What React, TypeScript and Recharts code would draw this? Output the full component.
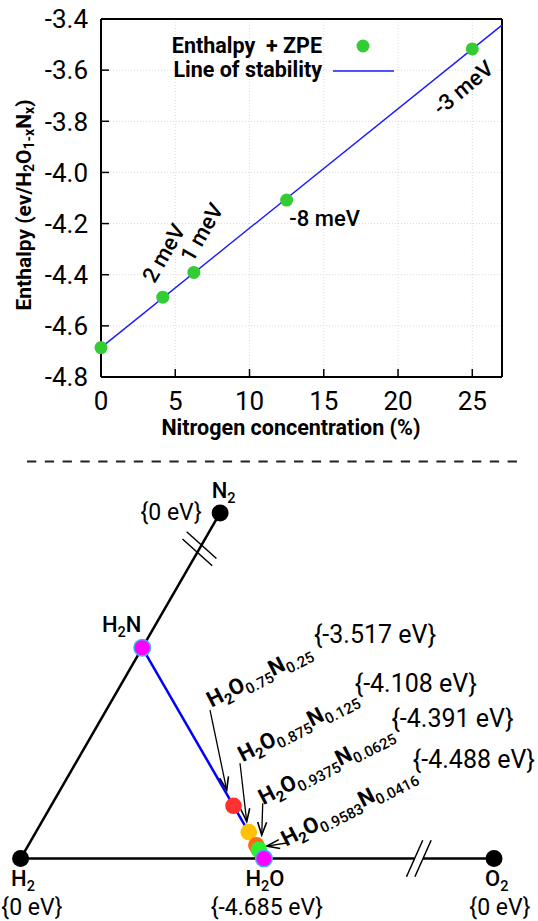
import React from "react";
import { ScatterChart, Scatter, XAxis, YAxis, CartesianGrid, Legend } from "recharts";

const FONT = "Roboto, 'Noto Sans', sans-serif";

// ---- top panel: enthalpy vs nitrogen concentration
const nitrogenPct = [0, 4.16, 6.25, 12.5, 25];
const enthalpyZpe = [-4.685, -4.488, -4.391, -4.108, -3.517];
const meVNotes = ["", "2 meV", "1 meV", "-8 meV", "-3 meV"];
const stabilityPct = [0, 27];
const stabilityEnthalpy = [-4.685, -3.424];
const xTicks = [0, 5, 10, 15, 20, 25];
const yTicks = [-4.8, -4.6, -4.4, -4.2, -4.0, -3.8, -3.6, -3.4];

// ---- bottom panel: ternary H-O-N diagram, H2O(1-x)N(x)
const xN = [0.25, 0.125, 0.0625, 0.0416, 0];
const oSubs = ["0.75", "0.875", "0.9375", "0.9583"];
const nSubs = ["0.25", "0.125", "0.0625", "0.0416"];
const mixEnergies = ["{-3.517 eV}", "{-4.108 eV}", "{-4.391 eV}", "{-4.488 eV}"];
const vertexNames = ["H2", "H2O", "O2", "N2", "H2N"];
const vertexO = [0, 1 / 3, 0.6485, 0, 0]; // O2 / N2 drawn pulled in (axis break)
const vertexN = [0, 0, 0, 0.5466, 1 / 3];
const vertexEnergies = ["{0 eV}", "{-4.685 eV}", "{0 eV}", "{0 eV}", ""];
const breakO = 0.5455;
const breakN = 0.49;

// styles / placement (pixels)
const mixColors = ["#ff3030", "#ffc107", "#ff6a13", "#2ef02e", "#ff00ff"];
const notePlace = [null, { dx: 1, dy: -44, a: -60 }, { dx: 8, dy: -40, a: -60 }, { dx: 38, dy: 18, a: 0 }, { dx: -9, dy: 39, a: -40 }];
const mixPlace = [
  { tail: [-23.5, -95.8], tip: [-6.8, -15.8], text: [-22, -98], energy: [141.5, -162.8] },
  { tail: [-8.7, -68.9], tip: [-2, -10.5], text: [-6, -70], energy: [167.1, -140.5] },
  { tail: [6.4, -42], tip: [5.4, -10.3], text: [7, -40], energy: [196.2, -118.6] },
  { tail: [29.4, -7], tip: [7.8, -3.7], text: [27.1, -3], energy: [215.1, -81.7] },
];
const vertexPlace = [
  { name: [2.4, 27], size: 22, energy: [11.4, 56.5] },
  { name: [1, 27], size: 22, energy: [3, 56.5] },
  { name: [2.8, 27], size: 22, energy: [6, 56.5] },
  { name: [3.5, -15], size: 22, energy: [-49, 7] },
  { name: [-20.6, -16], size: 22, energy: null },
];

const pointData = nitrogenPct.map((x, i) => ({ x, y: enthalpyZpe[i], i }));
const stabilityData = stabilityPct.map((x, i) => ({ x, y: stabilityEnthalpy[i] }));

function Chem({ s, sub }: { s: string; sub: number }) {
  const parts = s.match(/[A-Za-z]+|[0-9.]+/g) || [];
  let low = false;
  return (
    <>
      {parts.map((p, k) => {
        const isSub = /^[0-9.]/.test(p);
        const dy = isSub && !low ? sub * 0.25 : !isSub && low ? -sub * 0.25 : 0;
        low = isSub;
        return (
          <tspan key={k} dy={dy} fontSize={isSub ? sub * 0.66 : undefined}>{p}</tspan>
        );
      })}
    </>
  );
}

function YTitle() {
  return (
    <text transform="translate(24,205) rotate(-90)" textAnchor="middle" dominantBaseline="central"
      fontSize={21} fontWeight={700} fontFamily={FONT} fill="#000">
      Enthalpy (ev/H<tspan dy={5} fontSize={14}>2</tspan><tspan dy={-5}>O</tspan>
      <tspan dy={5} fontSize={14}>1-x</tspan><tspan dy={-5}>N</tspan><tspan dy={5} fontSize={14}>x</tspan><tspan dy={-5}>)</tspan>
    </text>
  );
}

function XTitle() {
  return (
    <text x={291} y={435} textAnchor="middle" fontSize={21.5} fontWeight={700} fontFamily={FONT} fill="#000">
      Nitrogen concentration (%)
    </text>
  );
}

function legendContent() {
  return (
    <svg width={250} height={54} style={{ display: "block" }} fontFamily={FONT}>
      <text x={162} y={23} textAnchor="end" fontSize={21.5} fontWeight={700} fill="#000">{"Enthalpy\u00a0\u00a0+ ZPE"}</text>
      <circle cx={203} cy={16} r={6.5} fill="#33cc33" />
      <text x={162} y={47} textAnchor="end" fontSize={21.5} fontWeight={700} fill="#000">Line of stability</text>
      <line x1={173} x2={234} y1={41} y2={41} stroke="#1a1aff" strokeWidth={1.5} />
    </svg>
  );
}

const axisLine = { stroke: "#000", strokeWidth: 2 };
const tickLine = { stroke: "#000", strokeWidth: 1.5 };
const tickStyle = { fontSize: 26, fill: "#000", fontFamily: FONT };

function TopChart() {
  return (
    <ScatterChart width={538} height={450} margin={{ top: 18, right: 35, bottom: 13, left: 0 }}>
      <CartesianGrid stroke="#d0d0d0" strokeDasharray="1 2" strokeWidth={0.8} />
      <XAxis type="number" dataKey="x" domain={[0, 27]} ticks={xTicks} interval={0} height={60}
        axisLine={axisLine} tickLine={tickLine} tickSize={-8} tickMargin={23} tick={tickStyle} label={XTitle} />
      <XAxis xAxisId="top" orientation="top" type="number" domain={[0, 27]} ticks={xTicks} interval={0}
        height={1} axisLine={axisLine} tickLine={tickLine} tickSize={-8} tickFormatter={() => ""} />
      <YAxis type="number" dataKey="y" domain={[-4.8, -3.4]} ticks={yTicks} interval={0} width={101}
        axisLine={axisLine} tickLine={tickLine} tickSize={-8} tickMargin={21} tick={tickStyle}
        tickFormatter={(v: number) => v.toFixed(1)} label={YTitle} />
      <YAxis yAxisId="right" orientation="right" type="number" domain={[-4.8, -3.4]} ticks={yTicks} interval={0}
        width={1} axisLine={axisLine} tickLine={tickLine} tickSize={-8} tickFormatter={() => ""} />
      <Legend verticalAlign="middle" align="center" layout="horizontal" content={legendContent}
        wrapperStyle={{ top: 30, left: 160, width: 250, height: 54 }} />
      <Scatter data={stabilityData} line={{ stroke: "#1a1aff", strokeWidth: 1.4 }} shape={() => <g />} isAnimationActive={false} />
      <Scatter data={pointData} isAnimationActive={false}
        shape={(p: any) => <circle cx={p.cx} cy={p.cy} r={6.5} fill="#33cc33" />} />
      <Scatter data={pointData} isAnimationActive={false}
        shape={(p: any) => {
          const k = p.payload.i;
          const pl = notePlace[k];
          if (!pl || !meVNotes[k]) return <g />;
          const tx = p.cx + pl.dx, ty = p.cy + pl.dy;
          return (
            <text x={tx} y={ty} transform={`rotate(${pl.a} ${tx} ${ty})`} textAnchor="middle" dominantBaseline="central"
              fontSize={22} fontWeight={500} fontFamily={FONT} fill="#000">{meVNotes[k]}</text>
          );
        }} />
    </ScatterChart>
  );
}

// ternary projection
const tern = (o: number, n: number) => ({ x: o + n / 2, y: (n * Math.sqrt(3)) / 2 });
const mixComp = (x: number) => tern((1 - x) / 3, x / 3);

const S = 730; // px per ternary edge length
const B_W = 538, B_H = 471, B_TOP = 450;
const OX = 20.6, OY = 858.5 - B_TOP;
const bxDomain: [number, number] = [-OX / S, (B_W - OX) / S];
const byDomain: [number, number] = [(OY - B_H) / S, OY / S];

const gap = 0.0057;
const edgeN = [tern(0, 0), tern(0, vertexN[3])];
const edgeOLeft = [tern(0, 0), tern(breakO - gap, 0)];
const edgeORight = [tern(breakO + gap, 0), tern(vertexO[2], 0)];
const tieLine = [tern(0, 1 / 3), tern(1 / 3, 0)];
const mixData = xN.map((x, i) => ({ ...mixComp(x), i }));
const vertexData = vertexNames.map((v, i) => ({ ...tern(vertexO[i], vertexN[i]), i }));

function Arrow({ x1, y1, x2, y2 }: { x1: number; y1: number; x2: number; y2: number }) {
  const a = Math.atan2(y2 - y1, x2 - x1);
  const L = 13, W = 4.5;
  const bx = x2 - L * Math.cos(a), by = y2 - L * Math.sin(a);
  const nx = -Math.sin(a), ny = Math.cos(a);
  return (
    <g stroke="#000" strokeWidth={1.3} fill="none">
      <line x1={x1} y1={y1} x2={x2} y2={y2} />
      <polyline points={`${bx + nx * W},${by + ny * W} ${x2},${y2} ${bx - nx * W},${by - ny * W}`} strokeWidth={1.6} />
    </g>
  );
}

function BreakMarks({ cx, cy, ex, ey, mx, my }: any) {
  const len = 20, sep = 4.2;
  return (
    <g stroke="#000" strokeWidth={1.5}>
      {[-1, 1].map((s) => {
        const px = cx + s * sep * ex, py = cy + s * sep * ey;
        return <line key={s} x1={px - mx * len} y1={py - my * len} x2={px + mx * len} y2={py + my * len} />;
      })}
    </g>
  );
}

const edgeLine = { stroke: "#000", strokeWidth: 2.5 };
const noShape = () => <g />;

function BottomChart() {
  return (
    <ScatterChart width={B_W} height={B_H} margin={{ top: 0, right: 0, bottom: 0, left: 0 }}>
      <XAxis type="number" dataKey="x" domain={bxDomain} allowDataOverflow hide />
      <YAxis type="number" dataKey="y" domain={byDomain} allowDataOverflow hide />
      <Scatter data={edgeN} line={edgeLine} shape={noShape} isAnimationActive={false} />
      <Scatter data={edgeOLeft} line={edgeLine} shape={noShape} isAnimationActive={false} />
      <Scatter data={edgeORight} line={edgeLine} shape={noShape} isAnimationActive={false} />
      <Scatter data={tieLine} line={{ stroke: "#0000ff", strokeWidth: 2.5 }} shape={noShape} isAnimationActive={false} />
      <Scatter data={[tern(breakO, 0)]} isAnimationActive={false}
        shape={(p: any) => <BreakMarks cx={p.cx} cy={p.cy} ex={1} ey={0} mx={0.407} my={-0.914} />} />
      <Scatter data={[tern(0, breakN)]} isAnimationActive={false}
        shape={(p: any) => <BreakMarks cx={p.cx} cy={p.cy} ex={0.5} ey={-0.866} mx={0.744} my={0.668} />} />
      <Scatter data={mixData.slice(0, 4)} isAnimationActive={false}
        shape={(p: any) => {
          const k = p.payload.i;
          const pl = mixPlace[k];
          const tx = p.cx + pl.text[0], ty = p.cy + pl.text[1];
          return (
            <g fontFamily={FONT} fill="#000">
              <Arrow x1={p.cx + pl.tail[0]} y1={p.cy + pl.tail[1]} x2={p.cx + pl.tip[0]} y2={p.cy + pl.tip[1]} />
              <text x={tx} y={ty} transform={`rotate(-27 ${tx} ${ty})`} fontSize={22} fontWeight={700}>
                H<tspan dy={5} fontSize={15}>2</tspan><tspan dy={-5}>O</tspan>
                <tspan dy={5} fontSize={15} fontWeight={500}>{oSubs[k]}</tspan><tspan dy={-5}>N</tspan>
                <tspan dy={5} fontSize={15} fontWeight={500}>{nSubs[k]}</tspan>
              </text>
              <text x={p.cx + pl.energy[0]} y={p.cy + pl.energy[1]} textAnchor="middle" fontSize={25}>{mixEnergies[k]}</text>
            </g>
          );
        }} />
      <Scatter data={mixData} isAnimationActive={false}
        shape={(p: any) => {
          const k = p.payload.i;
          return <circle cx={p.cx} cy={p.cy} r={8.3} fill={mixColors[k]} stroke={k === 4 ? "#45aef0" : "none"} strokeWidth={1.5} />;
        }} />
      <Scatter data={vertexData} isAnimationActive={false}
        shape={(p: any) => {
          const k = p.payload.i;
          const pl = vertexPlace[k];
          const isH2N = vertexNames[k] === "H2N";
          return (
            <g fontFamily={FONT} fill="#000">
              {isH2N ? (
                <circle cx={p.cx} cy={p.cy} r={8.3} fill="#ff00ff" stroke="#45aef0" strokeWidth={1.5} />
              ) : k !== 1 ? (
                <circle cx={p.cx} cy={p.cy} r={8.5} fill="#000" />
              ) : null}
              <text x={p.cx + pl.name[0]} y={p.cy + pl.name[1]} textAnchor="middle" fontSize={pl.size} fontWeight={500}>
                <Chem s={vertexNames[k]} sub={pl.size} />
              </text>
              {pl.energy && (
                <text x={p.cx + pl.energy[0]} y={p.cy + pl.energy[1]} textAnchor="middle" fontSize={23}>{vertexEnergies[k]}</text>
              )}
            </g>
          );
        }} />
    </ScatterChart>
  );
}

export default function App() {
  return (
    <div style={{ position: "absolute", left: 0, top: 0, width: 538, height: 921, background: "#fff", fontFamily: FONT }}>
      <div style={{ position: "absolute", left: 0, top: 0 }}>
        <TopChart />
      </div>
      <svg style={{ position: "absolute", left: 0, top: 455 }} width={538} height={14}>
        <line x1={27} x2={519} y1={6.5} y2={6.5} stroke="#222" strokeWidth={2} strokeDasharray="9.3 8.5" />
      </svg>
      <div style={{ position: "absolute", left: 0, top: B_TOP }}>
        <BottomChart />
      </div>
    </div>
  );
}
